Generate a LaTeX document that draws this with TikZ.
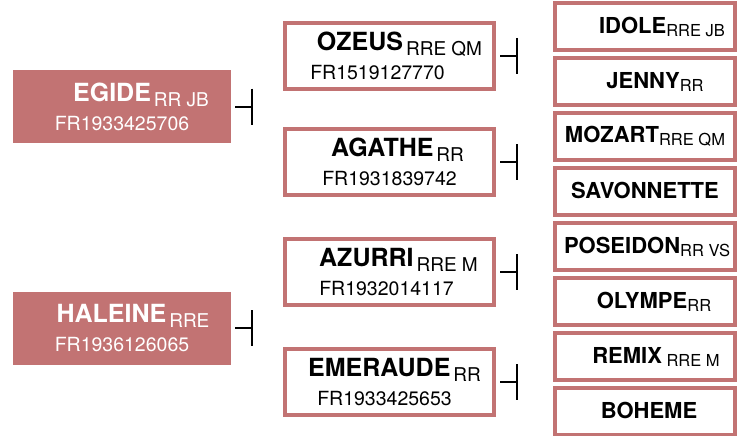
\documentclass[tikz,border=0pt]{standalone}
\usepackage{fontspec}
\setmainfont{TeX Gyre Heros}
\usepackage{xcolor}
\usetikzlibrary{positioning,arrows.meta}
\definecolor{pedigreerose}{RGB}{194,115,115}
\newcommand{\horse}[4][0pt]{\hspace*{#1}{\fontsize{25}{29}\selectfont\bfseries #2}\hspace{3pt}{\fontsize{19}{29}\selectfont\raisebox{-5pt}{#3}}\\#4}
\newcommand{\grandhorse}[3][0pt]{\hspace*{#1}{\fontsize{22}{24}\selectfont\bfseries #2}{\fontsize{16.5}{24}\selectfont\raisebox{-3pt}{#3}}}

\begin{document}
\begin{tikzpicture}[x=1pt,y=1pt,
    sire/.style={fill=pedigreerose,text=white,minimum width=218pt,minimum height=73pt,inner sep=0pt,align=center,font=\fontsize{19.5}{29}\selectfont},
    parent/.style={draw=pedigreerose,line width=4pt,fill=white,minimum width=209pt,minimum height=66pt,inner sep=0pt,align=center,font=\fontsize{19.5}{29}\selectfont},
    grand/.style={draw=pedigreerose,line width=4pt,fill=white,minimum width=180pt,minimum height=47pt,inner sep=0pt},
    tee/.style={line width=2pt,-{Bar[width=36pt]},shorten <=4pt}]
    \useasboundingbox (0,0) rectangle (741,-436);
    % first generation
    \node[sire] (egide) at (122,-106.5) {\horse[38pt]{EGIDE}{RR JB}{FR1933425706}};
    \node[sire] (haleine) at (122,-328) {\horse[22pt]{HALEINE}{RRE}{FR1936126065}};
    % second generation
    \node[parent] (ozeus) at (389.5,-56) {\horse[20pt]{OZEUS}{RRE QM}{FR1519127770\hspace*{24pt}}};
    \node[parent] (agathe) at (389.5,-162) {\horse[16pt]{AGATHE}{RR}{FR1931839742}};
    \node[parent] (azurri) at (389.5,-272) {\horse[18pt]{AZURRI}{RRE M}{FR1932014117\hspace*{6pt}}};
    \node[parent] (emeraude) at (389.5,-382) {\horse[10pt]{EMERAUDE}{RR}{FR1933425653\hspace*{10pt}}};
    % third generation
    \node[grand] (idole) at (645,-26.5) {\grandhorse[34pt]{IDOLE}{RRE JB}};
    \node[grand,below=4pt of idole] (jenny) {\grandhorse[20pt]{JENNY}{RR}};
    \node[grand,below=4pt of jenny] (mozart) {\grandhorse{MOZART}{RRE QM}};
    \node[grand,below=4pt of mozart] (savonnette) {\grandhorse{SAVONNETTE}{}};
    \node[grand,below=4pt of savonnette] (poseidon) {\grandhorse[4pt]{POSEIDON}{RR VS}};
    \node[grand,below=4pt of poseidon] (olympe) {\grandhorse[18pt]{OLYMPE}{RR}};
    \node[grand,below=4pt of olympe] (remix) {\grandhorse[22pt]{REMIX}{ RRE M}};
    \node[grand,below=4pt of remix] (boheme) {\grandhorse[8pt]{BOHEME}{}};
    % tees
    \foreach \h in {egide,haleine,ozeus,agathe,azurri,emeraude}
        \coordinate[right=22pt of \h.east] (\h T);
    \foreach \h in {egide,haleine,ozeus,agathe,azurri,emeraude}
        \draw[tee] (\h) -- (\h T);
\end{tikzpicture}
\end{document}
